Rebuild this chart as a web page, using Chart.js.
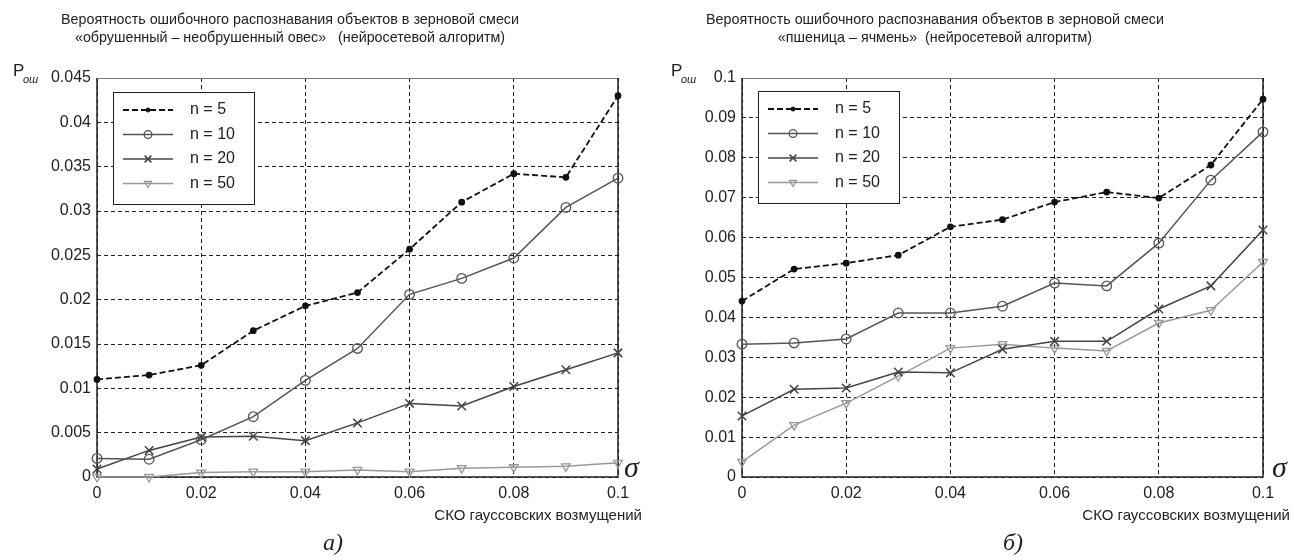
<!DOCTYPE html>
<html>
<head>
<meta charset="utf-8">
<script src="https://cdn.jsdelivr.net/npm/chart.js@4"></script>
<style>
    html, body { margin: 0; padding: 0; background: #fff; }
    #wrap { position: relative; width: 1293px; height: 558px; overflow: hidden; }
    .panel { position: absolute; top: 0; }
</style>
</head>
<body>
<div id="wrap">
    <canvas id="chartOat" class="panel" width="646" height="558" style="left:0"></canvas>
    <canvas id="chartWheat" class="panel" width="647" height="558" style="left:646px"></canvas>
</div>
<script>
// sigma (СКО гауссовских возмущений)
const sigma = [0, 0.01, 0.02, 0.03, 0.04, 0.05, 0.06, 0.07, 0.08, 0.09, 0.1];
const seriesLabels = ["n = 5", "n = 10", "n = 20", "n = 50"];

// а) обрушенный – необрушенный овес
const oatN5 = [0.011, 0.0115, 0.0126, 0.0165, 0.0193, 0.0208, 0.0257, 0.031, 0.0342, 0.0338, 0.043];
const oatN10 = [0.0021, 0.002, 0.0042, 0.0068, 0.0109, 0.0145, 0.0206, 0.0224, 0.0247, 0.0304, 0.0337];
const oatN20 = [0.0009, 0.003, 0.0045, 0.0046, 0.0041, 0.0061, 0.0083, 0.008, 0.0102, 0.0121, 0.014];
const oatN50 = [0, 0, 0.0005, 0.0006, 0.0006, 0.0008, 0.0006, 0.001, 0.0011, 0.0012, 0.0016];

// б) пшеница – ячмень
const wheatN5 = [0.0441, 0.0521, 0.0536, 0.0556, 0.0627, 0.0645, 0.0689, 0.0714, 0.0699, 0.0782, 0.0947];
const wheatN10 = [0.0333, 0.0336, 0.0346, 0.0411, 0.0411, 0.0428, 0.0486, 0.0479, 0.0586, 0.0744, 0.0865];
const wheatN20 = [0.0153, 0.022, 0.0223, 0.0263, 0.0261, 0.032, 0.034, 0.034, 0.0421, 0.0479, 0.0619];
const wheatN50 = [0.0038, 0.013, 0.0185, 0.0253, 0.0323, 0.0333, 0.0323, 0.0316, 0.0386, 0.0418, 0.0539];

// axis ticks
const xTicks = [0, 0.02, 0.04, 0.06, 0.08, 0.1];
const xTickLabels = ["0", "0.02", "0.04", "0.06", "0.08", "0.1"];
const oatYTicks = [0, 0.005, 0.01, 0.015, 0.02, 0.025, 0.03, 0.035, 0.04, 0.045];
const oatYTickLabels = ["0", "0.005", "0.01", "0.015", "0.02", "0.025", "0.03", "0.035", "0.04", "0.045"];
const wheatYTicks = [0, 0.01, 0.02, 0.03, 0.04, 0.05, 0.06, 0.07, 0.08, 0.09, 0.1];
const wheatYTickLabels = ["0", "0.01", "0.02", "0.03", "0.04", "0.05", "0.06", "0.07", "0.08", "0.09", "0.1"];

const SANS = "'Liberation Sans', Arial, sans-serif";
const SERIF = "'Liberation Serif', 'Times New Roman', serif";

function toPoints(values) {
    return values.map((v, i) => ({ x: sigma[i], y: v }));
}

function buildDatasets(n5, n10, n20, n50) {
    return [{
        label: seriesLabels[0],
        data: toPoints(n5),
        borderColor: "#111",
        borderWidth: 1.8,
        borderDash: [6, 3],
        pointStyle: "circle",
        pointRadius: 2.5,
        pointBackgroundColor: "#111",
        pointBorderColor: "#111",
    }, {
        label: seriesLabels[1],
        data: toPoints(n10),
        borderColor: "#555",
        borderWidth: 1.5,
        pointStyle: "circle",
        pointRadius: 4.8,
        pointBorderWidth: 1.3,
        pointBackgroundColor: "rgba(0,0,0,0)",
        pointBorderColor: "#555",
    }, {
        label: seriesLabels[2],
        data: toPoints(n20),
        borderColor: "#444",
        borderWidth: 1.5,
        pointStyle: "crossRot",
        pointRadius: 6,
        pointBorderWidth: 1.5,
        pointBorderColor: "#444",
    }, {
        label: seriesLabels[3],
        data: toPoints(n50),
        borderColor: "#999",
        borderWidth: 1.5,
        pointStyle: "triangle",
        pointRotation: 180,
        pointRadius: 5,
        pointBorderWidth: 1.3,
        pointBackgroundColor: "rgba(0,0,0,0)",
        pointBorderColor: "#999",
    }];
}

// frame + legend + free texts, all drawn on the canvas
const decorPlugin = {
    id: "decor",
    beforeDatasetsDraw(chart) {
        const { ctx, chartArea: a } = chart;
        ctx.save();
        ctx.lineWidth = 1;
        ctx.strokeStyle = "#777";
        ctx.beginPath();
        ctx.moveTo(a.left, a.top + 0.5);
        ctx.lineTo(a.right, a.top + 0.5);
        ctx.stroke();
        ctx.strokeStyle = "#222";
        ctx.lineWidth = 1.5;
        ctx.beginPath();
        ctx.moveTo(a.left, a.top);
        ctx.lineTo(a.left, a.bottom);
        ctx.lineTo(a.right, a.bottom);
        ctx.lineTo(a.right, a.top);
        ctx.stroke();
        ctx.restore();
    },
    afterDatasetsDraw(chart, args, opts) {
        const { ctx } = chart;
        const box = opts.legendBox;
        ctx.save();
        ctx.fillStyle = "#fff";
        ctx.fillRect(box.x, box.y, box.w, box.h);
        ctx.strokeStyle = "#222";
        ctx.lineWidth = 1;
        ctx.strokeRect(box.x + 0.5, box.y + 0.5, box.w, box.h);
        ctx.font = "16px " + SANS;
        ctx.textBaseline = "middle";
        chart.data.datasets.forEach((ds, i) => {
            const y = box.y + 18 + i * 24.5;
            const x0 = box.x + 10;
            const x1 = x0 + 50;
            ctx.save();
            ctx.strokeStyle = ds.borderColor;
            ctx.lineWidth = ds.borderWidth;
            ctx.setLineDash(ds.borderDash || []);
            ctx.beginPath();
            ctx.moveTo(x0, y);
            ctx.lineTo(x1, y);
            ctx.stroke();
            ctx.restore();
            ctx.save();
            ctx.strokeStyle = ds.pointBorderColor;
            ctx.fillStyle = ds.pointBackgroundColor || "rgba(0,0,0,0)";
            ctx.lineWidth = ds.pointBorderWidth || 1;
            Chart.helpers.drawPoint(ctx, {
                pointStyle: ds.pointStyle,
                radius: Math.max(2, ds.pointRadius * 0.8),
                rotation: ds.pointRotation || 0,
                borderWidth: ds.pointBorderWidth || 1,
            }, (x0 + x1) / 2, y);
            ctx.restore();
            ctx.fillStyle = "#222";
            ctx.fillText(ds.label, box.x + 77, y);
        });
        ctx.restore();
    },
    afterDraw(chart, args, opts) {
        const { ctx } = chart;
        ctx.save();
        ctx.fillStyle = "#222";
        ctx.textAlign = "center";
        ctx.textBaseline = "alphabetic";
        ctx.font = "14.3px " + SANS;
        opts.title.forEach((line, i) => {
            ctx.fillText(line, opts.titleX, 24 + i * 18);
        });
        ctx.textAlign = "left";
        ctx.font = "17px " + SANS;
        ctx.fillText("P", opts.pX, 76);
        ctx.font = "italic 11px " + SANS;
        ctx.fillText("ош", opts.pX + 10, 83);
        ctx.font = "italic 30px " + SERIF;
        ctx.fillText("σ", opts.sigmaX, 477);
        ctx.font = "15px " + SANS;
        ctx.textAlign = "right";
        ctx.fillText("СКО гауссовских возмущений", opts.captionRight, 520);
        ctx.textAlign = "left";
        ctx.font = "italic 24px " + SERIF;
        ctx.fillText(opts.panelLabel, opts.panelLabelX, 550);
        ctx.restore();
    },
};

function makePanel(canvasId, cfg) {
    const ctx = document.getElementById(canvasId);
    return new Chart(ctx, {
        type: "line",
        data: { datasets: cfg.datasets },
        plugins: [decorPlugin],
        options: {
            responsive: false,
            animation: false,
            devicePixelRatio: 1,
            clip: false,
            layout: { padding: { top: 78, right: cfg.padRight, left: 0, bottom: 0 } },
            elements: { line: { tension: 0 } },
            plugins: {
                legend: { display: false },
                tooltip: { enabled: false },
                decor: cfg.decor,
            },
            scales: {
                x: {
                    type: "linear",
                    min: 0,
                    max: 0.1,
                    afterFit: (s) => { s.height = 81; },
                    afterBuildTicks: (s) => { s.ticks = xTicks.map((v) => ({ value: v })); },
                    ticks: {
                        padding: 7,
                        color: "#222",
                        font: { family: SANS, size: 16 },
                        maxRotation: 0,
                        callback: (v) => xTickLabels[xTicks.indexOf(v)],
                    },
                    grid: { color: "#222", lineWidth: 1, drawTicks: false },
                    border: { display: false, dash: [4, 3] },
                },
                y: {
                    type: "linear",
                    min: 0,
                    max: cfg.yTicks[cfg.yTicks.length - 1],
                    afterFit: (s) => { s.width = cfg.yWidth; },
                    afterBuildTicks: (s) => { s.ticks = cfg.yTicks.map((v) => ({ value: v })); },
                    ticks: {
                        padding: 6,
                        color: "#222",
                        font: { family: SANS, size: 16 },
                        callback: (v) => cfg.yTickLabels[cfg.yTicks.indexOf(v)],
                    },
                    grid: { color: "#222", lineWidth: 1, drawTicks: false },
                    border: { display: false, dash: [4, 3] },
                },
            },
        },
    });
}

document.addEventListener("DOMContentLoaded", () => {
    makePanel("chartOat", {
        datasets: buildDatasets(oatN5, oatN10, oatN20, oatN50),
        yTicks: oatYTicks,
        yTickLabels: oatYTickLabels,
        yWidth: 97,
        padRight: 28,
        decor: {
            title: [
                "Вероятность ошибочного распознавания объектов в зерновой смеси",
                "«обрушенный – необрушенный овес»   (нейросетевой алгоритм)",
            ],
            titleX: 290,
            pX: 13,
            sigmaX: 624,
            captionRight: 642,
            panelLabel: "а)",
            panelLabelX: 323,
            legendBox: { x: 113, y: 92, w: 141, h: 112 },
        },
    });

    makePanel("chartWheat", {
        datasets: buildDatasets(wheatN5, wheatN10, wheatN20, wheatN50),
        yTicks: wheatYTicks,
        yTickLabels: wheatYTickLabels,
        yWidth: 96,
        padRight: 30,
        decor: {
            title: [
                "Вероятность ошибочного распознавания объектов в зерновой смеси",
                "«пшеница – ячмень»  (нейросетевой алгоритм)",
            ],
            titleX: 289,
            pX: 25,
            sigmaX: 626,
            captionRight: 644,
            panelLabel: "б)",
            panelLabelX: 357,
            legendBox: { x: 112, y: 91, w: 141, h: 112 },
        },
    });
});
</script>
</body>
</html>
